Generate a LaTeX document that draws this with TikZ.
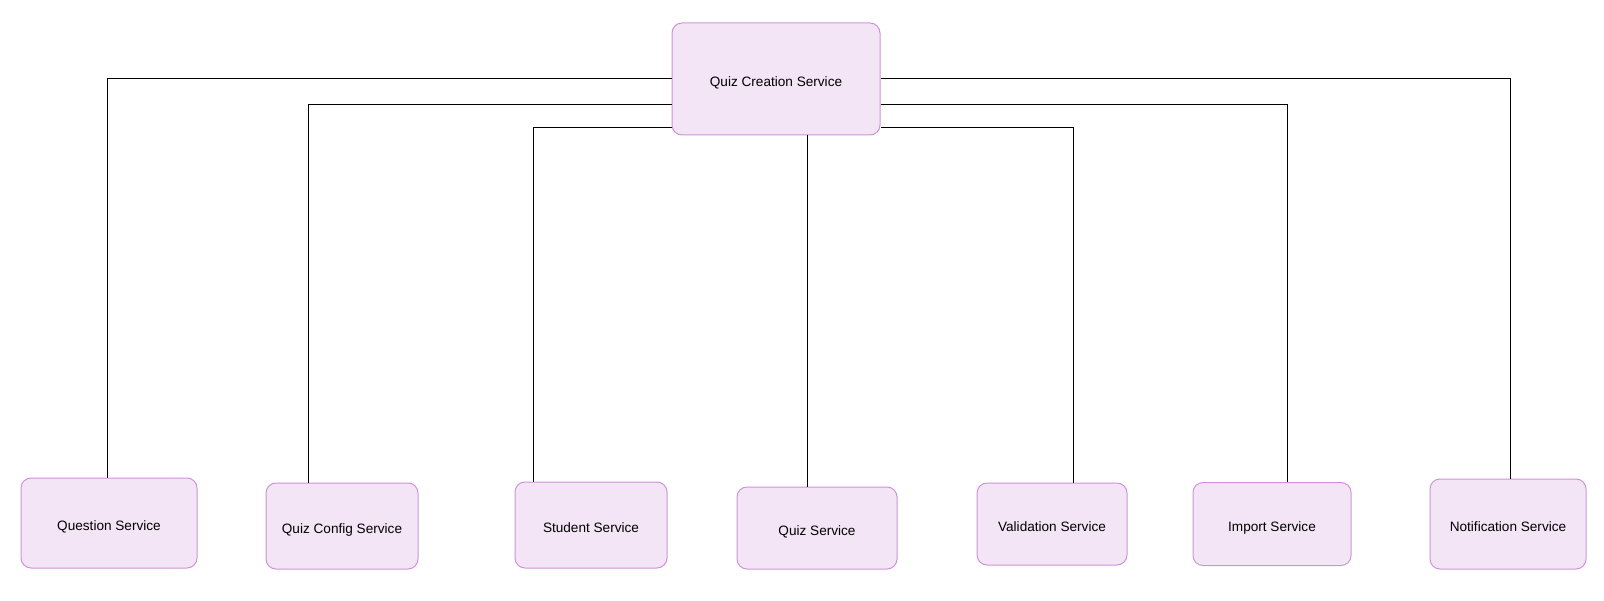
\documentclass[tikz,border=0pt]{standalone}
\usepackage{fontspec}
\setmainfont{Liberation Sans}
\usetikzlibrary{positioning}

\definecolor{svcfill}{HTML}{F3E5F5}
\definecolor{svcline}{HTML}{CE93D8}

\begin{document}
\begin{tikzpicture}[x=1pt, y=-1pt, line width=1pt,
    svc/.style={draw=svcline, fill=svcfill, line width=1pt, rounded corners=10pt,
                inner sep=0pt, text height=15pt, text depth=0pt,
                font=\fontsize{13.6}{16}\selectfont},
    link/.style={draw=black}]

    \useasboundingbox (0,0) rectangle (1604,601);

    % Nodes
    \node (QCS) [svc, minimum width=208pt, minimum height=112pt] at (776,79) {Quiz Creation Service};
    \node (Question) [svc, minimum width=176pt, minimum height=90pt] at (109,523) {Question Service};
    \node (Config) [svc, minimum width=152pt, minimum height=86pt, right=68pt of Question, yshift=-3pt] {Quiz Config Service};
    \node (Student) [svc, minimum width=152pt, minimum height=86pt, right=96pt of Config, yshift=1pt] {Student Service};
    \node (Quiz) [svc, minimum width=160pt, minimum height=82pt, right=69pt of Student, yshift=-3pt] {Quiz Service};
    \node (Validation) [svc, minimum width=150pt, minimum height=82pt, right=79pt of Quiz, yshift=4pt] {Validation Service};
    \node (Import) [svc, minimum width=158pt, minimum height=83pt, right=65pt of Validation] {Import Service};
    \node (Notification) [svc, minimum width=156pt, minimum height=90pt, right=78pt of Import] {Notification Service};

    % Lines
    \draw[link] (QCS.west) -| ([xshift=-2pt]Question.north);
    \draw[link] ([yshift=-26pt]QCS.west) -| ([xshift=-34pt]Config.north);
    \draw[link] ([yshift=-49pt]QCS.west) -| ([xshift=-58pt]Student.north);
    \draw[link] ([xshift=31pt]QCS.south) -- ([xshift=31pt]QCS.south |- Quiz.north);
    \draw[link] ([yshift=-49pt]QCS.east) -| ([xshift=21pt]Validation.north);
    \draw[link] ([yshift=-26pt]QCS.east) -| ([xshift=15pt]Import.north);
    \draw[link] (QCS.east) -| ([xshift=2pt]Notification.north);

\end{tikzpicture}
\end{document}
